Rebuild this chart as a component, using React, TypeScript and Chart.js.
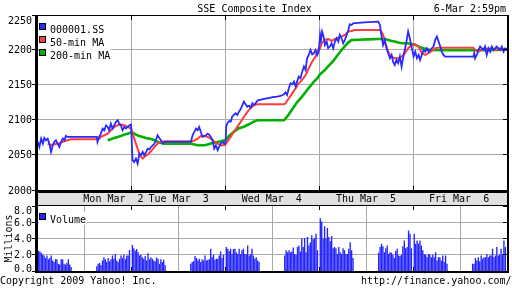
import React, { useEffect, useRef } from "react";
import { Chart, registerables } from "chart.js";

Chart.register(...registerables);

const FONT = '10px "DejaVu Sans Mono", "Liberation Mono", monospace';
const BLUE = "#2a2aff";
const RED = "#ff3b3b";
const GREEN = "#00b000";
const BAR = "#2424ff";
const GRID = "#a9a9a9";
const STRIP = "#e0e0e0";

const titleText = "SSE Composite Index";
const stampText = "6-Mar 2:59pm";
const copyrightText = "Copyright 2009 Yahoo! Inc.";
const sourceText = "http://finance.yahoo.com/";
const volumeAxisTitle = "Millions";
const seriesNames = ["000001.SS", "50-min MA", "200-min MA"];
const volumeName = "Volume";

// x axis: trading minutes since Mon 9:30, 330 per day (9:30-15:00)
const dayLabels = ["Mon Mar  2", "Tue Mar  3", "Wed Mar  4", "Thu Mar  5", "Fri Mar  6"];
const dayLabelAt = [266, 495, 822, 1153, 1480];
const dayBounds = [0, 330, 660, 990, 1320, 1650];
const priceTicks = [2000, 2050, 2100, 2150, 2200, 2250];
const volumeTicks = [0, 2, 4, 6, 8];

// 000001.SS
const priceT = [
  0, 6, 12, 18, 23, 29, 35, 41, 47, 53, 58, 64, 70, 76, 82, 88, 94, 99, 105, 208, 210, 216, 222, 228, 234, 240, 246, 251, 257, 263, 269, 275, 281, 286, 292, 298, 304, 310, 316, 322, 328,
  333, 339, 345, 351, 357, 363, 369, 374, 380, 386, 392, 398, 404, 410, 415, 421, 427, 433, 439, 445, 538, 544, 550, 556, 562, 567, 573, 579, 585, 591, 597, 602, 608, 614, 620, 626, 632, 637, 643, 649, 655, 660,
  662, 666, 672, 678, 683, 689, 695, 701, 707, 713, 719, 724, 730, 736, 742, 748, 754, 759, 765, 771, 777, 783, 794, 806, 818, 830, 841, 853, 865, 870, 876, 882, 888, 894, 900, 906, 911, 917, 923, 929, 935, 941, 946, 952, 958, 964, 970, 976, 982, 987,
  992, 995, 999, 1004, 1009, 1015, 1020, 1026, 1032, 1038, 1044, 1050, 1056, 1061, 1067, 1073, 1079, 1085, 1091, 1096, 1102, 1108, 1126, 1161, 1196, 1202, 1207, 1213, 1219, 1225, 1231, 1237, 1243, 1248, 1254, 1260, 1266, 1272, 1278, 1283, 1289, 1295, 1301, 1307, 1313,
  1320, 1326, 1332, 1338, 1343, 1349, 1355, 1361, 1367, 1373, 1379, 1384, 1390, 1396, 1402, 1408, 1414, 1419, 1425, 1431, 1530, 1533, 1536, 1542, 1548, 1554, 1560, 1566, 1571, 1577, 1583, 1589, 1595, 1601, 1606, 1612, 1618, 1624, 1630, 1636, 1642, 1650,
];
const priceV = [
  2068.5, 2061.3, 2073.2, 2066.1, 2074.2, 2070.8, 2073.2, 2066.1, 2054.2, 2063.7, 2068.5, 2070.8, 2066.1, 2061.3, 2068.5, 2073.2, 2070.8, 2077, 2075.6, 2075.6, 2068.5, 2075.6, 2080.3, 2087.5, 2085.1, 2092.2, 2089.8, 2085.1, 2094.6, 2087.5, 2092.2, 2097, 2099.3, 2094.6, 2092.2, 2085.1, 2089.8, 2087.5, 2089.8, 2092.2, 2093.2,
  2042.3, 2040, 2044.7, 2037.6, 2051.8, 2049.5, 2054.2, 2049.5, 2053.3, 2059, 2058, 2061.3, 2063.7, 2066.1, 2070.8, 2078, 2074.2, 2070.8, 2066.1, 2068.5, 2068.5, 2078, 2082.7, 2087.5, 2085.1, 2089.8, 2082.7, 2075.6, 2077, 2078, 2080.3, 2078.9, 2075.6, 2070.8, 2059, 2063.7, 2056.6, 2061.3, 2066.1, 2068.5, 2066.1, 2068.5,
  2090, 2095, 2098.3, 2097.4, 2104.5, 2106.9, 2109.2, 2106.9, 2111.6, 2115.4, 2121.1, 2125.9, 2122.1, 2118.7, 2120.2, 2117.3, 2123.5, 2121.1, 2123.5, 2126.8, 2128.3, 2128.3, 2129.7, 2130.6, 2131.6, 2132.5, 2133, 2133.9, 2136.3, 2139.2, 2135.4, 2144.9, 2152, 2150.6, 2154.4, 2147.3, 2154.4, 2161.5, 2159.1, 2168.6, 2175.8, 2171, 2187.6, 2192.4, 2199.5, 2193.3, 2194.8, 2199.5, 2192.4, 2197.1,
  2220.9, 2213.8, 2225.6, 2218.5, 2206.6, 2211.4, 2201.9, 2204.3, 2209, 2201.9, 2211.4, 2216.1, 2211.4, 2220.9, 2216.1, 2209, 2213.8, 2220.9, 2228, 2236.1, 2235.1, 2237.5, 2238, 2239, 2239.9, 2235.1, 2220.9, 2206.6, 2213.8, 2201.9, 2194.8, 2187.6, 2192.4, 2182.9, 2178.1, 2185.3, 2180.5, 2190, 2175.8, 2187.6, 2199.5, 2211.4, 2225.6, 2216.1, 2204.3,
  2190, 2197.1, 2187.6, 2192.4, 2185.3, 2192.4, 2199.5, 2197.1, 2201.9, 2197.1, 2199.5, 2201.9, 2204.3, 2213.8, 2218.5, 2211.4, 2204.3, 2197.1, 2192.4, 2190, 2190, 2194.8, 2187.6, 2192.4, 2199.5, 2204.3, 2201.9, 2199.5, 2204.3, 2192.4, 2201.9, 2197.1, 2204.3, 2199.5, 2201.9, 2204.3, 2201.9, 2199.5, 2204.3, 2197.1, 2201.9, 2199.5,
];

// 50-min MA
const ma50T = [
  35, 47, 58, 70, 82, 94, 105, 117, 210, 216, 222, 234, 246, 257, 269, 281, 292, 304, 316, 328,
  333, 339, 345, 351, 357, 363, 369, 374, 386, 398, 410, 421, 433, 445, 544, 550, 562, 573, 585, 597, 608, 620, 632, 643, 655, 660,
  666, 678, 689, 701, 713, 724, 736, 748, 759, 771, 865, 870, 882, 894, 906, 917, 929, 941, 952, 964, 976, 987,
  992, 997, 1009, 1020, 1032, 1044, 1056, 1067, 1079, 1091, 1102, 1114, 1202, 1207, 1213, 1219, 1225, 1231, 1237, 1243, 1254, 1266, 1278, 1289, 1301, 1313,
  1320, 1326, 1338, 1349, 1361, 1373, 1384, 1396, 1408, 1530, 1536, 1548, 1560, 1571, 1583, 1595, 1606, 1618, 1630, 1650,
];
const ma50V = [
  2066.1, 2063.7, 2065.1, 2066.1, 2067.5, 2069.4, 2070.8, 2072.3, 2072.3, 2073.2, 2075.6, 2078, 2080.3, 2085.1, 2089.8, 2092.2, 2093.2, 2092.2, 2089.8, 2087.5,
  2080.3, 2073.2, 2066.1, 2059, 2051.8, 2047.1, 2044.7, 2047.1, 2050.4, 2055.2, 2061.3, 2066.1, 2068.5, 2069.4, 2069.4, 2070.8, 2073.2, 2077, 2077, 2075.6, 2073.2, 2069.4, 2066.1, 2063.7, 2063.7, 2064.7,
  2069, 2076, 2083, 2090, 2097, 2104, 2111, 2117, 2120.5, 2122, 2122, 2123.5, 2130.6, 2137.7, 2144.9, 2152, 2156.8, 2163.9, 2173.4, 2182.9, 2190, 2201.9,
  2202, 2209, 2213.8, 2215.2, 2212.3, 2215.2, 2217.1, 2218.5, 2220.9, 2225.6, 2226.6, 2228, 2228, 2225.6, 2220.9, 2211.4, 2204.3, 2197.1, 2192.4, 2190, 2187.6, 2187.6, 2190, 2194.8, 2201.9, 2206.6,
  2206.6, 2207.6, 2204.3, 2194.8, 2192.4, 2194.8, 2198.1, 2201.9, 2202.8, 2202.8, 2199.5, 2197.1, 2199.5, 2201.9, 2201, 2201.9, 2199.5, 2201.9, 2199.5, 2199.5,
];

// 200-min MA
const ma200T = [
  246, 257, 269, 281, 292, 304, 316, 328,
  333, 345, 357, 369, 380, 392, 404, 415, 427, 445, 538, 550, 562, 585, 597, 608, 620, 632, 643, 655, 660,
  672, 689, 707, 724, 742, 759, 771, 865, 876, 888, 900, 911, 923, 935, 946, 958, 970, 982, 990,
  1009, 1020, 1032, 1044, 1055, 1067, 1079, 1090, 1102, 1126, 1161, 1196, 1219, 1231, 1243, 1254, 1266, 1278, 1301, 1313,
  1320, 1332, 1343, 1355, 1367, 1379, 1431, 1530, 1548, 1600, 1650,
];
const ma200V = [
  2070.8, 2072.3, 2074.2, 2075.6, 2077, 2078.9, 2080.3, 2081.8,
  2081.8, 2078.9, 2077, 2075.6, 2074.2, 2073.2, 2071.8, 2069.9, 2067.5, 2066.1, 2066.1, 2064.7, 2063.7, 2063.7, 2064.7, 2066.1, 2067.5, 2068.5, 2069.4, 2070.8, 2071.3,
  2077, 2083, 2087.9, 2090.2, 2093.6, 2097.4, 2099.3, 2099.3, 2104.5, 2111.6, 2118.7, 2124.9, 2130.6, 2136.3, 2142.5, 2148.2, 2154.4, 2159.1, 2164,
  2171, 2176, 2181, 2187, 2193, 2199, 2205, 2210, 2213.5, 2214, 2214.5, 2215.2, 2215, 2213.8, 2212.3, 2211.4, 2210, 2209, 2209, 2207.6,
  2207.6, 2205.7, 2203.3, 2201.9, 2200.5, 2199.5, 2199, 2199, 2199, 2199.5, 2200,
];

// Volume, millions per 5-minute bar (24 bars per session)
const monAM = [2.5, 2.4, 2.25, 2.0, 1.9, 1.6, 1.9, 1.45, 1.6, 1.9, 1.3, 1.1, 1.45, 1.45, 0.9, 0.8, 1.45, 1.45, 0.9, 0.8, 1.0, 1.45, 0.8, 0.5];
const monPM = [0.6, 0.9, 1.0, 0.7, 1.3, 1.7, 1.45, 1.1, 1.6, 1.2, 1.45, 1.9, 1.5, 2.1, 1.3, 1.1, 1.5, 1.9, 1.6, 2.0, 1.45, 1.9, 1.9, 2.6];
const tueAM = [3.2, 2.8, 2.5, 2.7, 2.3, 1.9, 2.0, 1.7, 1.5, 1.85, 1.3, 2.2, 1.45, 1.7, 1.5, 1.3, 1.2, 1.65, 1.5, 0.9, 1.45, 1.1, 1.4, 0.7];
const tuePM = [0.9, 1.1, 1.2, 1.85, 1.6, 1.3, 1.5, 1.1, 1.45, 1.3, 1.9, 1.3, 1.4, 1.45, 2.75, 1.7, 2.0, 1.4, 1.5, 1.5, 1.9, 2.4, 1.6, 2.0];
const wedAM = [2.95, 2.75, 2.45, 2.75, 2.1, 2.7, 2.75, 2.3, 2.1, 2.75, 2.1, 2.55, 2.75, 2.1, 2.05, 3.15, 1.9, 2.1, 2.75, 1.9, 1.5, 1.7, 1.3, 1.1];
const wedPM = [1.9, 2.55, 2.3, 2.55, 2.3, 2.4, 2.9, 2.1, 2.0, 2.95, 3.15, 2.4, 4.0, 2.95, 4.05, 2.3, 4.2, 3.15, 3.5, 4.4, 3.9, 4.05, 4.6, 2.55];
const thuAM = [6.5, 6.1, 4.0, 5.5, 4.0, 5.3, 4.2, 3.65, 4.3, 2.8, 2.95, 2.8, 2.1, 2.95, 2.3, 2.1, 2.8, 2.55, 2.1, 2.1, 2.75, 3.55, 2.55, 1.6];
const thuPM = [2.25, 2.95, 3.35, 3.05, 2.3, 2.8, 3.15, 2.1, 2.3, 2.25, 2.0, 1.6, 2.45, 2.75, 1.9, 1.85, 2.0, 3.05, 3.75, 2.8, 2.95, 5.0, 4.6, 2.8];
const friAM = [4.6, 3.35, 3.75, 3.35, 3.75, 3.15, 2.55, 2.1, 2.0, 1.7, 2.1, 2.0, 1.7, 2.0, 1.7, 2.3, 1.3, 1.7, 1.7, 1.3, 1.9, 1.1, 1.9, 0.9];
const friPM = [0.9, 0.9, 1.6, 1.3, 1.7, 1.2, 1.9, 1.5, 1.7, 1.7, 2.1, 1.7, 1.9, 1.9, 2.75, 1.7, 1.9, 2.95, 1.9, 2.0, 2.75, 2.1, 3.75, 2.95];
const volumeSessions = [monAM, monPM, tueAM, tuePM, wedAM, wedPM, thuAM, thuPM, friAM, friPM];
const sessionStart = [0, 205]; // minutes after the open
const barMinutes = 5;
const dayMinutes = 330;

const pairs = (t: number[], v: number[]) => t.map((x, i) => ({ x, y: v[i] }));

function volumePoints() {
  const pts: { x: number; y: number }[] = [];
  volumeSessions.forEach((arr, i) => {
    const base = Math.floor(i / 2) * dayMinutes + sessionStart[i % 2];
    arr.forEach((v, k) => pts.push({ x: base + barMinutes * k + barMinutes / 2, y: v }));
  });
  return pts;
}

const inner = (arr: number[]) => arr.slice(1, -1).map((v) => ({ value: v }));

function legendEntry(ctx: any, text: string, color: string, base: number, boxRight: number) {
  const w = ctx.measureText(text).width;
  ctx.fillStyle = "#fff";
  ctx.fillRect(39, base - 11, boxRight + w - 39, 13);
  ctx.fillStyle = "#000";
  ctx.fillRect(39, base - 10, 7, 7);
  ctx.fillStyle = color;
  ctx.fillRect(40, base - 9, 5, 5);
  ctx.fillStyle = "#000";
  ctx.textAlign = "left";
  ctx.fillText(text, 50, base);
}

const priceDeco = {
  id: "priceDeco",
  afterDraw(chart: any) {
    const { ctx, chartArea: a } = chart;
    const xs = chart.scales.x;
    const ys = chart.scales.y;
    const L = Math.floor(a.left) - 2;
    const R = Math.floor(a.right);
    const T = Math.ceil(a.top);
    const B = Math.round(a.bottom);
    ctx.save();
    ctx.font = FONT;
    ctx.textBaseline = "alphabetic";
    // frame
    ctx.fillStyle = "#000";
    ctx.fillRect(L, T, R + 2 - L, 1);
    ctx.fillRect(L, B, R + 2 - L, 2);
    ctx.fillRect(L, T, 3, B + 15 - T);
    ctx.fillRect(R, T, 2, B + 15 - T);
    // date strip
    ctx.fillRect(L, B + 2, R + 2 - L, 1);
    ctx.fillStyle = STRIP;
    ctx.fillRect(L + 3, B + 3, R - L - 3, 12);
    // day tick marks
    ctx.fillStyle = "#000";
    dayBounds.slice(1, -1).forEach((v) => {
      const px = Math.floor(xs.getPixelForValue(v));
      ctx.fillRect(px, T, 1, 5);
      ctx.fillRect(px, B - 4, 1, 4);
    });
    // y ticks + labels
    ctx.textAlign = "right";
    priceTicks.forEach((v) => {
      const py = Math.min(Math.max(Math.round(ys.getPixelForValue(v) - 0.5), T), B);
      ctx.fillRect(L - 3, py, 3, 1);
      ctx.fillRect(R - 4, py, 4, 1);
      const base = Math.max(py + 4, T + 8.5);
      ctx.fillText(String(v), 32, base);
    });
    // day labels
    ctx.textAlign = "center";
    dayLabels.forEach((s, i) => ctx.fillText(s, xs.getPixelForValue(dayLabelAt[i]), B + 12));
    // title + timestamp
    ctx.fillText(titleText, 254.5, 12);
    ctx.textAlign = "right";
    ctx.fillText(stampText, 506, 12);
    // legend
    const colors = [BLUE, RED, GREEN];
    seriesNames.forEach((s, i) => legendEntry(ctx, s, colors[i], 33 + i * 13, 51));
    ctx.restore();
  },
};

const volumeDeco = {
  id: "volumeDeco",
  afterDraw(chart: any) {
    const { ctx, chartArea: a } = chart;
    const xs = chart.scales.x;
    const ys = chart.scales.y;
    const L = Math.floor(a.left) - 2;
    const R = Math.floor(a.right);
    const T = 0;
    const B = Math.round(a.bottom);
    ctx.save();
    ctx.font = FONT;
    ctx.textBaseline = "alphabetic";
    ctx.fillStyle = "#000";
    ctx.fillRect(L, T, R + 2 - L, 1);
    ctx.fillRect(L, B, R + 2 - L, 2);
    ctx.fillRect(L, T, 3, B + 2 - T);
    ctx.fillRect(R, T, 2, B + 2 - T);
    dayBounds.slice(1, -1).forEach((v) => {
      const px = Math.floor(xs.getPixelForValue(v));
      ctx.fillRect(px, T, 1, 5);
      ctx.fillRect(px, B - 4, 1, 4);
    });
    ctx.textAlign = "right";
    volumeTicks.forEach((v) => {
      const py = Math.min(Math.max(Math.round(ys.getPixelForValue(v) - 0.5), T), B);
      ctx.fillRect(L - 3, py, 3, 1);
      ctx.fillRect(R - 4, py, 4, 1);
      const base = Math.min(Math.max(py + 4, a.top + 8), B + 1);
      ctx.fillText(v.toFixed(1), 32, base);
    });
    legendEntry(ctx, volumeName, BAR, 18, 51);
    // axis title
    ctx.save();
    ctx.translate(11.5, 33.5);
    ctx.rotate(-Math.PI / 2);
    ctx.textAlign = "center";
    ctx.fillStyle = "#000";
    ctx.fillText(volumeAxisTitle, 0, 0);
    ctx.restore();
    // footer
    ctx.fillStyle = "#000";
    ctx.textAlign = "left";
    ctx.fillText(copyrightText, 0, 78.5);
    ctx.textAlign = "right";
    ctx.fillText(sourceText, 511.5, 78.5);
    ctx.restore();
  },
};

const hiddenAxis = (min: number, max: number, ticks: number[], horizontal: boolean) => ({
  type: "linear",
  min,
  max,
  offset: false,
  afterBuildTicks: (s: any) => {
    s.ticks = inner(ticks);
  },
  afterFit: (s: any) => {
    if (horizontal) s.height = 0;
    else s.width = 0;
  },
  ticks: { display: false },
  grid: { color: GRID, lineWidth: 1, drawTicks: false },
  border: { display: false },
});

export default function App() {
  const priceRef = useRef<HTMLCanvasElement>(null);
  const volRef = useRef<HTMLCanvasElement>(null);

  useEffect(() => {
    const pc = new Chart(priceRef.current as HTMLCanvasElement, {
      type: "line",
      data: {
        datasets: [
          { label: seriesNames[0], data: pairs(priceT, priceV), borderColor: BLUE, borderWidth: 1.8, pointRadius: 0, tension: 0 },
          { label: seriesNames[1], data: pairs(ma50T, ma50V), borderColor: RED, borderWidth: 2, pointRadius: 0, tension: 0 },
          { label: seriesNames[2], data: pairs(ma200T, ma200V), borderColor: GREEN, borderWidth: 2.6, pointRadius: 0, tension: 0 },
        ],
      } as any,
      options: {
        responsive: false,
        animation: false,
        events: [],
        layout: { padding: { left: 37.7, right: 4.5, top: 14.5, bottom: 15 } },
        plugins: { legend: { display: false }, tooltip: { enabled: false } },
        scales: {
          x: hiddenAxis(0, 1650, dayBounds, true),
          y: hiddenAxis(2000, 2250, priceTicks, false),
        } as any,
      },
      plugins: [priceDeco],
    });

    const vc = new Chart(volRef.current as HTMLCanvasElement, {
      type: "bar",
      data: {
        datasets: [
          {
            label: volumeName,
            data: volumePoints(),
            backgroundColor: BAR,
            borderWidth: 0,
            barPercentage: 1,
            categoryPercentage: 0.95,
            inflateAmount: 0,
          },
        ],
      } as any,
      options: {
        responsive: false,
        animation: false,
        events: [],
        layout: { padding: { left: 37.7, right: 4.5, top: 1, bottom: 17 } },
        plugins: { legend: { display: false }, tooltip: { enabled: false } },
        scales: {
          x: hiddenAxis(0, 1650, dayBounds, true),
          y: hiddenAxis(0, 8, volumeTicks, false),
        } as any,
      },
      plugins: [volumeDeco],
    });

    return () => {
      pc.destroy();
      vc.destroy();
    };
  }, []);

  return (
    <div style={{ position: "absolute", left: 0, top: 0, width: 512, height: 288, background: "#fff", overflow: "hidden" }}>
      <canvas ref={priceRef} width={512} height={205} style={{ position: "absolute", left: 0, top: 0, width: 512, height: 205 }} />
      <canvas ref={volRef} width={512} height={83} style={{ position: "absolute", left: 0, top: 205, width: 512, height: 83 }} />
    </div>
  );
}
